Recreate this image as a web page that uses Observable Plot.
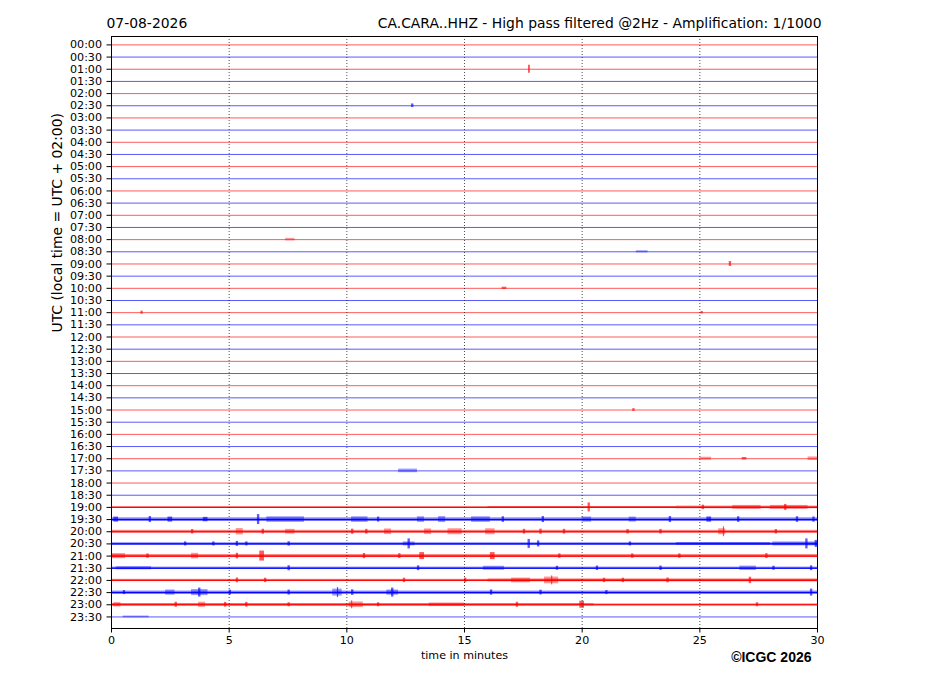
<!DOCTYPE html>
<html>
<head>
<meta charset="utf-8">
<script src="https://cdn.jsdelivr.net/npm/d3@7"></script>
<script src="https://cdn.jsdelivr.net/npm/@observablehq/plot@0.6"></script>
<style>
  html, body { margin: 0; padding: 0; background: white; }
</style>
</head>
<body>
<div id="chart"></div>
<script>
// ---------- data ----------
const dateLabel = "07-08-2026";
const titleText = "CA.CARA..HHZ - High pass filtered @2Hz - Amplification: 1/1000";
const yLabel = "UTC (local time = UTC + 02:00)";
const xLabel = "time in minutes";
const credit = "©ICGC 2026";

const rowLabels = [
  "00:00","00:30","01:00","01:30","02:00","02:30","03:00","03:30",
  "04:00","04:30","05:00","05:30","06:00","06:30","07:00","07:30",
  "08:00","08:30","09:00","09:30","10:00","10:30","11:00","11:30",
  "12:00","12:30","13:00","13:30","14:00","14:30","15:00","15:30",
  "16:00","16:30","17:00","17:30","18:00","18:30","19:00","19:30",
  "20:00","20:30","21:00","21:30","22:00","22:30","23:00","23:30"
];

// background noise half-amplitude of each trace (amplitude units)
const baseAmp = [
  0.4,0.4,0.5,0.5,0.4,0.4,0.4,0.4,
  0.5,0.5,0.4,0.4,0.4,0.4,0.4,0.4,
  0.4,0.4,0.4,0.4,0.4,0.4,0.4,0.4,
  0.4,0.4,0.4,0.4,0.4,0.4,0.4,0.4,
  0.4,0.4,0.5,0.5,0.4,0.4,0.6,1.7,
  1.4,1.1,1.5,1.1,1.1,1.5,0.9,0.5
];

// bursts of signal: [trace, start minute, end minute, half-amplitude]
const events = [
  ["01:00",17.72,17.80,4.0],["02:30",12.75,12.85,1.8],["08:00",7.4,7.8,1.3],
  ["08:30",22.3,22.8,1.0],["09:00",26.25,26.35,2.5],["10:00",16.6,16.8,1.1],
  ["11:00",1.25,1.35,1.5],["11:00",25.05,25.15,1.2],["15:00",22.15,22.25,1.4],
  ["17:00",25.0,25.5,1.5],["17:00",26.8,27.0,1.2],["17:00",29.6,30.0,1.8],
  ["17:30",12.2,13.0,1.8],
  ["19:00",16.0,24.0,0.9],["19:00",20.25,20.35,4.5],["19:00",24.0,30.0,1.4],
  ["19:00",25.1,25.2,2.2],["19:00",26.4,27.6,2.0],["19:00",28.0,29.6,2.0],["19:00",28.6,28.7,3.0],
  ["19:30",0.1,0.3,2.5],["19:30",1.6,1.7,3.0],["19:30",2.4,2.6,2.5],["19:30",3.9,4.1,2.2],
  ["19:30",6.2,6.3,5.0],["19:30",6.6,8.2,2.8],["19:30",10.2,10.9,2.8],["19:30",11.3,11.4,2.5],
  ["19:30",13.0,13.3,2.8],["19:30",13.9,14.2,3.0],["19:30",15.3,16.1,2.8],["19:30",16.6,16.7,2.8],
  ["19:30",18.3,18.4,3.0],["19:30",20.0,20.4,2.6],["19:30",22.0,22.3,2.5],["19:30",23.7,23.8,3.0],
  ["19:30",25.3,25.5,2.6],["19:30",26.6,26.7,2.8],["19:30",29.1,29.2,2.8],["19:30",29.8,29.9,2.6],
  ["20:00",3.4,3.5,2.2],["20:00",5.3,5.6,3.2],["20:00",6.4,6.5,2.5],["20:00",7.4,7.8,2.4],
  ["20:00",10.2,10.3,2.6],["20:00",10.8,10.9,2.4],["20:00",11.6,11.9,2.8],["20:00",13.3,13.6,2.8],
  ["20:00",14.3,14.9,3.0],["20:00",15.9,16.3,3.0],["20:00",17.5,17.6,2.4],["20:00",18.2,18.3,2.6],
  ["20:00",19.2,19.3,2.4],["20:00",21.9,22.0,2.2],["20:00",23.3,23.4,2.3],["20:00",25.8,26.1,3.0],
  ["20:00",26.0,26.05,5.0],["20:00",28.2,28.3,2.2],
  ["20:30",3.1,3.2,2.0],["20:30",4.3,4.4,2.0],["20:30",5.3,5.4,2.5],["20:30",5.7,5.8,2.0],
  ["20:30",7.5,7.6,2.2],["20:30",12.4,12.9,2.0],["20:30",12.6,12.7,5.0],["20:30",17.7,17.8,4.5],
  ["20:30",18.1,18.2,3.0],["20:30",22.0,22.1,2.0],["20:30",24.0,28.0,1.4],["20:30",28.1,30.0,2.0],
  ["20:30",29.5,29.6,5.0],["20:30",29.9,30.0,3.5],
  ["21:00",0.0,0.6,2.6],["21:00",1.5,1.6,2.2],["21:00",3.4,3.7,2.8],["21:00",5.3,5.4,2.8],
  ["21:00",6.3,6.5,5.0],["21:00",10.7,10.8,2.6],["21:00",12.2,12.3,2.4],["21:00",13.1,13.3,3.5],
  ["21:00",16.1,16.3,3.5],["21:00",19.0,19.1,2.2],["21:00",22.1,22.2,2.2],["21:00",24.1,24.2,2.2],
  ["21:00",27.8,27.9,2.4],
  ["21:30",0.2,1.7,1.6],["21:30",7.5,7.6,2.5],["21:30",13.0,13.1,2.4],["21:30",15.8,16.7,2.0],
  ["21:30",18.9,19.0,2.0],["21:30",20.6,20.7,2.2],["21:30",23.3,23.4,2.2],["21:30",26.7,27.4,2.2],
  ["21:30",28.1,28.2,2.0],["21:30",29.7,29.8,2.4],
  ["22:00",5.3,5.4,2.4],["22:00",6.5,6.6,2.2],["22:00",12.4,12.5,2.2],["22:00",15.0,15.1,2.4],
  ["22:00",16.0,30.0,1.5],["22:00",17.0,17.8,2.4],["22:00",18.4,19.0,3.4],["22:00",18.7,18.75,4.5],
  ["22:00",20.9,21.0,2.2],["22:00",21.7,21.8,2.2],["22:00",23.6,23.7,2.4],["22:00",27.1,27.2,3.2],
  ["22:30",0.5,0.6,2.0],["22:30",2.3,2.7,2.6],["22:30",3.4,4.1,3.0],["22:30",3.7,3.8,4.5],
  ["22:30",5.0,5.1,2.5],["22:30",7.5,7.6,2.5],["22:30",9.4,9.8,3.5],["22:30",9.6,9.65,5.0],
  ["22:30",10.2,10.3,2.8],["22:30",11.7,12.2,2.6],["22:30",11.9,12.0,4.5],["22:30",16.1,16.2,2.6],
  ["22:30",18.2,18.3,2.4],["22:30",21.0,21.1,2.0],["22:30",29.7,29.8,3.5],
  ["23:00",0.0,20.5,1.2],["23:00",0.1,0.4,2.2],["23:00",2.7,2.8,2.5],["23:00",3.7,4.0,2.6],
  ["23:00",4.8,4.9,2.4],["23:00",5.7,5.8,2.4],["23:00",7.5,7.6,2.0],["23:00",10.1,10.7,2.8],
  ["23:00",10.2,10.25,4.0],["23:00",11.3,11.4,2.0],["23:00",13.5,15.0,1.8],["23:00",17.2,17.3,2.5],
  ["23:00",19.9,20.1,3.5],["23:00",27.4,27.5,2.0],
  ["23:30",0.5,1.6,0.9]
];

const xTicks = [0, 5, 10, 15, 20, 25, 30];
const gridMinutes = [5, 10, 15, 20, 25];
const traceColors = ["#ff0000", "#0000ff"];
const ampPerTrace = 12.17; // amplitude units per trace spacing

// ---------- derived tables ----------
const traces = rowLabels.map((label, i) => ({
  i, label, amp: baseAmp[i], color: traceColors[i % 2]
}));
const rowIndex = new Map(rowLabels.map((l, i) => [l, i]));
const bursts = events.map(([label, t0, t1, a]) => {
  const i = rowIndex.get(label);
  return { i, t0, t1, a, color: traceColors[i % 2], wide: (t1 - t0) > 0.25 };
});
const noisy = traces.filter(d => d.amp > 0.55);

const chart = Plot.plot({
  width: 927,
  height: 696,
  marginLeft: 111,
  marginRight: 110,
  marginTop: 36,
  marginBottom: 68,
  style: { fontFamily: "DejaVu Sans", fontSize: "11.1px", background: "white", color: "black" },
  x: { domain: [xTicks[0], xTicks[xTicks.length - 1]] },
  y: { domain: [-0.69, 47.95], reverse: true },
  marks: [
    // baselines
    Plot.ruleY(traces, { y: "i", stroke: "color", strokeWidth: 1, strokeOpacity: 0.65 }),
    // background noise bands
    Plot.rect(noisy, {
      x1: () => xTicks[0], x2: () => xTicks[xTicks.length - 1],
      y1: d => d.i - d.amp / ampPerTrace, y2: d => d.i + d.amp / ampPerTrace,
      fill: "color", fillOpacity: 0.5
    }),
    Plot.ruleY(noisy, { y: "i", stroke: "color", strokeWidth: 1.2, strokeOpacity: 0.9 }),
    // signal bursts
    Plot.rect(bursts, {
      x1: "t0", x2: "t1",
      y1: d => d.i - d.a / ampPerTrace, y2: d => d.i + d.a / ampPerTrace,
      fill: "color", fillOpacity: d => d.wide ? 0.4 : 0.65
    }),
    // dotted vertical grid
    Plot.ruleX(gridMinutes, { stroke: "#222", strokeWidth: 0.8, strokeDasharray: "1,2" }),
    Plot.frame({ stroke: "black", strokeWidth: 1 }),
    Plot.axisY(traces.map(d => d.i), {
      tickFormat: i => rowLabels[i], tickSize: 4.5, tickPadding: 5,
      fontSize: 11.1, label: null
    }),
    Plot.axisX(xTicks, { tickSize: 4.5, tickPadding: 3, fontSize: 11.1, label: null }),
    // texts
    Plot.text([yLabel], { text: d => d, frameAnchor: "left", rotate: -90, dx: -54, fontSize: 13.9, fill: "black" }),
    Plot.text([xLabel], { text: d => d, frameAnchor: "bottom", dy: 30, fontSize: 11.1, fill: "black" }),
    Plot.text([dateLabel], { text: d => d, frameAnchor: "top-left", textAnchor: "start", dx: -5, dy: -18, fontSize: 13.9, fill: "black" }),
    Plot.text([titleText], { text: d => d, frameAnchor: "top-right", textAnchor: "end", dx: 4, dy: -18, fontSize: 13.9, fill: "black" }),
    Plot.text([credit], { text: d => d, frameAnchor: "bottom-right", textAnchor: "end", dx: -6, dy: 33, fontSize: 14, fontWeight: "bold", fontFamily: "Liberation Sans", fill: "black" })
  ]
});
document.getElementById("chart").appendChild(chart);
</script>
</body>
</html>
